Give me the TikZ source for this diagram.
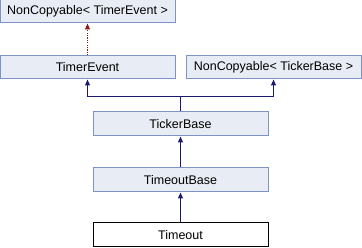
\documentclass[tikz,border=0pt]{standalone}
\usepackage{fontspec}
\setmainfont{Liberation Sans}
\usetikzlibrary{arrows.meta}
\definecolor{boxfill}{HTML}{E8ECF4}
\definecolor{boxline}{HTML}{7C95C6}
\definecolor{inhblue}{HTML}{191970}
\definecolor{tmplred}{HTML}{8B1A1A}
\begin{document}
\begin{tikzpicture}[x=1pt,y=-1pt,
  cls/.style={draw=boxline,fill=boxfill,line width=1pt,minimum width=175pt,minimum height=23pt,inner sep=0pt,font=\fontsize{12.5}{13}\selectfont},
  curcls/.style={cls,draw=black,fill=white},
  inh/.style={draw=inhblue,line width=1.1pt,-{Triangle[length=6pt,width=5pt]}},
  tmpl/.style={draw=tmplred,line width=1.1pt,dash pattern=on 1.2pt off 1.2pt,-{Triangle[length=6pt,width=5pt]}}]
\useasboundingbox (0,0) rectangle (362,248);
\node[cls] (nct) at (87.5,11.5) {NonCopyable< TimerEvent >};
\node[cls] (te) at (87.5,67.5) {TimerEvent};
\node[cls] (nctb) at (273.5,67.5) {NonCopyable< TickerBase >};
\node[cls,minimum height=24pt] (tb) at (180.5,124) {TickerBase};
\node[cls,minimum height=24pt] (tob) at (180.5,180) {TimeoutBase};
\node[curcls,minimum height=24pt] (to) at (180.5,235) {Timeout};
\coordinate (j) at (180.5,96.5);
\draw[tmpl] (te.north) -- (nct.south);
\draw[inh] (tb.north) -- (j) -| (te.south);
\draw[inh] (j) -| (nctb.south);
\draw[inh] (tob.north) -- (tb.south);
\draw[inh] (to.north) -- (tob.south);
\end{tikzpicture}
\end{document}
